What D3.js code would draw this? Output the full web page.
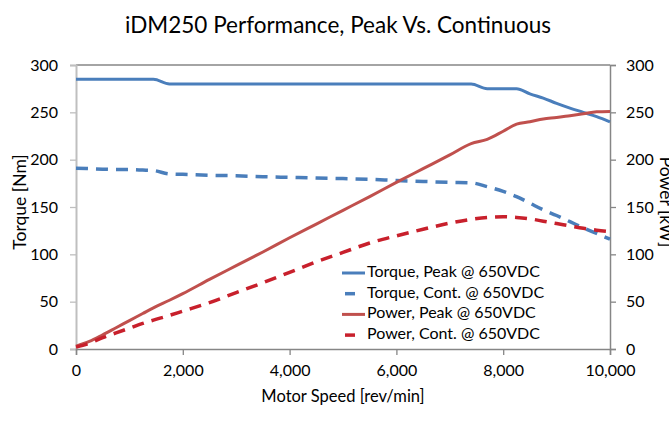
<!DOCTYPE html>
<html>
<head>
<meta charset="utf-8">
<script src="https://cdn.jsdelivr.net/npm/d3@7"></script>
<style>
  html, body { margin: 0; padding: 0; background: #fff; }
  svg { display: block; font-family: Lato, "Open Sans", sans-serif; }
</style>
</head>
<body>
<svg id="chart" width="669" height="423"></svg>
<script>
// ---- Data ----
const speeds = [0, 250, 500, 750, 1000, 1250, 1450, 1750, 2000, 2500, 3000, 3500, 4000, 4500, 5000, 5500, 6000, 6500, 7000, 7400, 7700, 8000, 8250, 8500, 8750, 9000, 9250, 9500, 9750, 10000];
const torquePeak = [285, 285, 285, 285, 285, 285, 285, 280, 280, 280, 280, 280, 280, 280, 280, 280, 280, 280, 280, 280, 275, 275, 275, 269.5, 265, 259.5, 254.5, 250, 245.5, 240];
const torqueCont = [191, 190.5, 190, 189.5, 189.5, 189, 188.5, 185, 184.5, 183.5, 183, 182, 181.3, 180.6, 180, 179.2, 178, 177, 176, 175.5, 171.5, 166.5, 161, 154, 147, 141, 134.5, 128, 122, 116];
const powerPeak = [3, 8, 15, 22.5, 30, 37.5, 43.5, 51.5, 58.5, 73.5, 88, 102.5, 117.5, 132, 146.5, 161, 176, 190.5, 205, 217, 221.5, 230, 237.5, 240, 243, 244.5, 246.5, 248.5, 250.5, 251];
const powerCont = [2, 6, 12, 17, 22, 27, 30.5, 35.5, 40, 49, 59.5, 70, 81, 92, 102, 112, 119.5, 126.5, 133, 137, 139, 139.7, 139, 137.5, 135, 132.5, 130, 127.5, 125.5, 124];

const xTicks = [0, 2000, 4000, 6000, 8000, 10000];
const yTicks = [0, 50, 100, 150, 200, 250, 300];

const seriesNames = ["Torque, Peak @ 650VDC", "Torque, Cont. @ 650VDC", "Power, Peak @ 650VDC", "Power, Cont. @ 650VDC"];
const seriesValues = [torquePeak, torqueCont, powerPeak, powerCont];
const seriesAxis = ["left", "left", "right", "right"];
const seriesColors = ["#4a7ebb", "#4a7ebb", "#c0504d", "#c8202c"];
const seriesDash = [null, "12,8", null, "12,8"];
const seriesWidth = [3, 3.5, 3, 3.5];

const title = "iDM250 Performance, Peak Vs. Continuous";
const xLabel = "Motor Speed [rev/min]";
const yLeftLabel = "Torque [Nm]";
const yRightLabel = "Power [kW]";

// ---- Layout ----
const svg = d3.select("#chart");
const L = 76, R = 610, T = 65, B = 349;

const x = d3.scaleLinear().domain([0, 10000]).range([L, R]);
const yL = d3.scaleLinear().domain([0, 300]).range([B, T]);
const yR = d3.scaleLinear().domain([0, 300]).range([B, T]);

const fontSize = 16;

// Title
svg.append("text")
  .attr("x", 338).attr("y", 33)
  .attr("text-anchor", "middle")
  .attr("font-size", 22.5)
  .attr("fill", "#000")
  .text(title);

// Top border
svg.append("line")
  .attr("x1", L).attr("x2", R).attr("y1", T).attr("y2", T)
  .attr("stroke", "#868686").attr("stroke-width", 1.3);

// Left axis
const leftAxis = svg.append("g")
  .attr("transform", `translate(${L},0)`)
  .call(d3.axisLeft(yL).tickValues(yTicks).tickSize(6).tickPadding(12).tickFormat(d3.format("d")));
leftAxis.select(".domain").attr("stroke", "#bfbfbf").attr("stroke-width", 2);
leftAxis.selectAll(".tick line").attr("stroke", "#bfbfbf").attr("stroke-width", 1.3);

// Right axis
const rightAxis = svg.append("g")
  .attr("transform", `translate(${R},0)`)
  .call(d3.axisRight(yR).tickValues(yTicks).tickSize(6).tickPadding(10).tickFormat(d3.format("d")));
rightAxis.select(".domain").attr("stroke", "#868686").attr("stroke-width", 1.5);
rightAxis.selectAll(".tick line").attr("stroke", "#868686").attr("stroke-width", 1.3);

// Bottom axis
const bottomAxis = svg.append("g")
  .attr("transform", `translate(0,${B})`)
  .call(d3.axisBottom(x).tickValues(xTicks).tickSize(6).tickPadding(10).tickFormat(d3.format(",")));
bottomAxis.select(".domain").attr("stroke", "#868686").attr("stroke-width", 1.5);
bottomAxis.selectAll(".tick line").attr("stroke", "#868686").attr("stroke-width", 1.3);

[leftAxis, rightAxis, bottomAxis].forEach(g => {
  g.selectAll("text").attr("font-size", fontSize).attr("fill", "#000")
    .attr("font-family", "Lato, 'Open Sans', sans-serif");
  g.attr("font-size", null).attr("font-family", null);
});

// Axis titles
svg.append("text")
  .attr("x", 343).attr("y", 398)
  .attr("text-anchor", "middle").attr("dominant-baseline", "middle")
  .attr("font-size", 16.5).attr("fill", "#000")
  .text(xLabel);

svg.append("text")
  .attr("transform", `translate(26,202) rotate(-90)`)
  .attr("text-anchor", "middle")
  .attr("font-size", 17.5).attr("fill", "#000")
  .text(yLeftLabel);

svg.append("text")
  .attr("transform", `translate(660,202) rotate(90)`)
  .attr("text-anchor", "middle")
  .attr("font-size", 17.5).attr("fill", "#000")
  .text(yRightLabel);

// Lines
const plot = svg.append("g");
seriesValues.forEach((vals, i) => {
  const yS = seriesAxis[i] === "left" ? yL : yR;
  const line = d3.line()
    .x((d, j) => x(speeds[j]))
    .y(d => yS(d))
    .curve(d3.curveMonotoneX);
  plot.append("path")
    .datum(vals)
    .attr("d", line)
    .attr("fill", "none")
    .attr("stroke", seriesColors[i])
    .attr("stroke-width", seriesWidth[i])
    .attr("stroke-dasharray", seriesDash[i])
    .attr("stroke-linejoin", "round");
});

// Legend
const legendX = 342, legendY0 = 273, legendStep = 20.7;
const legend = svg.append("g");
seriesNames.forEach((name, i) => {
  const yy = legendY0 + i * legendStep;
  if (seriesDash[i]) {
    legend.append("line")
      .attr("x1", legendX + 3).attr("x2", legendX + 13)
      .attr("y1", yy).attr("y2", yy)
      .attr("stroke", seriesColors[i]).attr("stroke-width", seriesWidth[i]);
  } else {
    legend.append("line")
      .attr("x1", legendX).attr("x2", legendX + 23)
      .attr("y1", yy).attr("y2", yy)
      .attr("stroke", seriesColors[i]).attr("stroke-width", seriesWidth[i]);
  }
  legend.append("text")
    .attr("x", legendX + 25).attr("y", yy)
    .attr("dominant-baseline", "middle")
    .attr("font-size", 16).attr("fill", "#000")
    .text(name);
});
</script>
</body>
</html>
